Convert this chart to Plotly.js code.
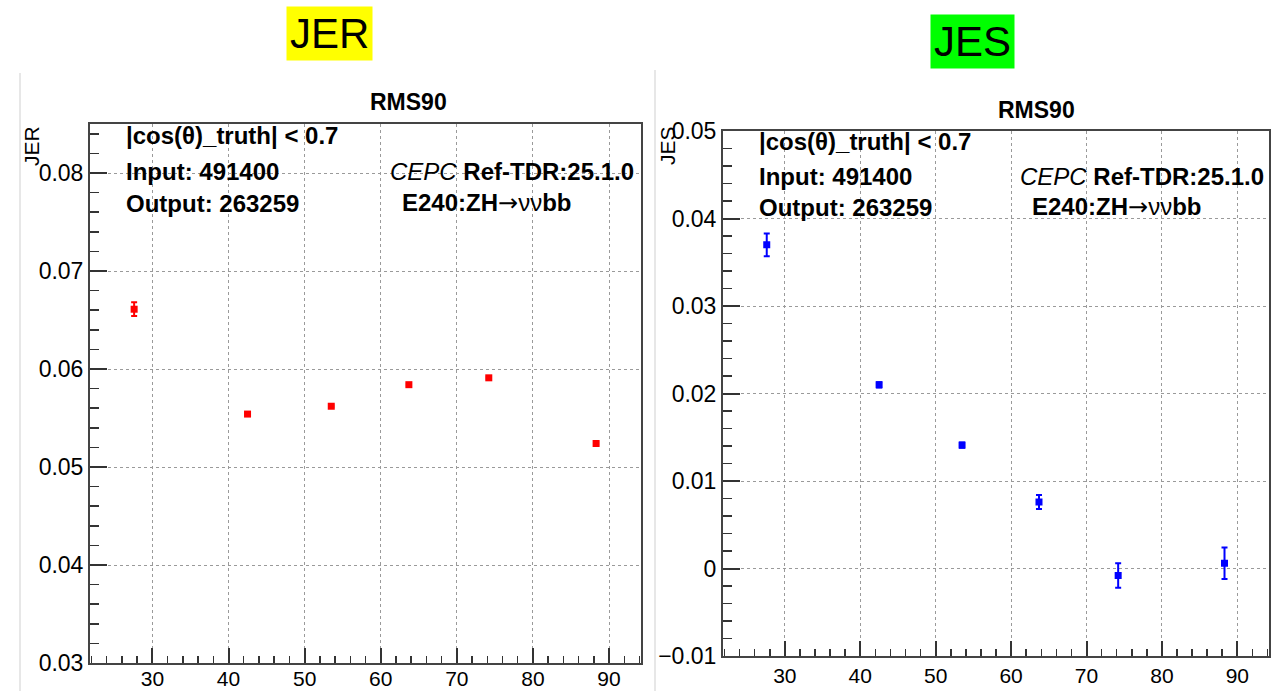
<!DOCTYPE html>
<html>
<head>
<meta charset="utf-8">
<script src="https://cdn.plot.ly/plotly-3.0.1.min.js"></script>
<style>
html,body{margin:0;padding:0;background:#fff;}
#chart{width:1276px;height:691px;}
</style>
</head>
<body>
<div id="chart"></div>
<script>
// Data
const ptCenters = [27.6, 42.5, 53.5, 63.7, 74.2, 88.3];
const jerValues = [0.0661, 0.0554, 0.0562, 0.0584, 0.0591, 0.0524];
const jerErrors = [0.0007, 0.0001, 0.0001, 0.0001, 0.0001, 0.0001];
const jesValues = [0.0370, 0.0210, 0.0141, 0.0076, -0.0008, 0.0006];
const jesErrors = [0.0013, 0.0003, 0.0003, 0.0008, 0.0014, 0.0018];
const panelTitles = ["JER", "JES"];
const plotTitle = "RMS90";
const infoLines = ["|cos(θ)_truth| < 0.7", "Input: 491400", "Output: 263259"];
const cepcLine = "<i>CEPC</i> <b>Ref-TDR:25.1.0</b>";
const procLine = "<b>E240:ZH</b><span style=\"font-family:'DejaVu Sans'\">→</span>νν<b>bb</b>";

const W = 1276, H = 691;
const px = x => x / W;
const py = y => 1 - y / H;
const FONT = "Liberation Sans, Arial, Helvetica, sans-serif";

const traces = [
  {
    x: ptCenters, y: jerValues, type: 'scatter', mode: 'markers',
    xaxis: 'x', yaxis: 'y',
    marker: {symbol: 'square', size: 7, color: '#ff0000'},
    error_y: {type: 'data', array: jerErrors, visible: true, color: '#ff0000', thickness: 2, width: 3},
    showlegend: false
  },
  {
    x: ptCenters, y: jesValues, type: 'scatter', mode: 'markers',
    xaxis: 'x2', yaxis: 'y2',
    marker: {symbol: 'square', size: 7, color: '#0000ff'},
    error_y: {type: 'data', array: jesErrors, visible: true, color: '#0000ff', thickness: 2, width: 3},
    showlegend: false
  }
];

function xAxis(domain, anchor, standoff) {
  return {
    domain: domain, anchor: anchor, range: [21.8, 94.2],
    dtick: 10, ticks: 'inside', ticklen: 15, tickwidth: 2, tickcolor: '#333',
    minor: {ticks: 'inside', ticklen: 7, tickwidth: 1.5, tickcolor: '#333', dtick: 2, showgrid: false},
    showline: true, linecolor: '#444', linewidth: 2, mirror: true,
    showgrid: true, gridcolor: '#9a9a9a', gridwidth: 1, griddash: 'dot',
    zeroline: false, ticklabelstandoff: standoff,
    tickfont: {family: FONT, size: 21, color: '#000'}
  };
}
function yAxis(domain, anchor, range) {
  return {
    domain: domain, anchor: anchor, range: range,
    dtick: 0.01, ticks: 'inside', ticklen: 17, tickwidth: 2, tickcolor: '#333',
    minor: {ticks: 'inside', ticklen: 9, tickwidth: 1.5, tickcolor: '#333', dtick: 0.002, showgrid: false},
    showline: true, linecolor: '#444', linewidth: 2, mirror: true,
    showgrid: true, gridcolor: '#9a9a9a', gridwidth: 1, griddash: 'dot',
    zeroline: false,
    tickfont: {family: FONT, size: 23, color: '#000'}
  };
}

const annotations = [];
function addText(text, x, y, opts) {
  annotations.push(Object.assign({
    text: text, x: px(x), y: py(y), xref: 'paper', yref: 'paper',
    showarrow: false, xanchor: 'left', yanchor: 'middle',
    font: {family: FONT, size: 24, color: '#000'}
  }, opts || {}));
}
// headers
addText(panelTitles[0], 329, 34, {xanchor: 'center', bgcolor: '#ffff00', borderpad: 3, font: {family: FONT, size: 42, color: '#000'}});
addText(panelTitles[1], 972, 42, {xanchor: 'center', bgcolor: '#00ff00', borderpad: 3, font: {family: FONT, size: 42, color: '#000'}});
// plot titles
addText('<b>' + plotTitle + '</b>', 408, 102, {xanchor: 'center', font: {family: FONT, size: 23, color: '#000'}});
addText('<b>' + plotTitle + '</b>', 1036, 110, {xanchor: 'center', font: {family: FONT, size: 23, color: '#000'}});
// y titles
addText(panelTitles[0], 31, 146, {xanchor: 'center', textangle: -90, font: {family: FONT, size: 21, color: '#000'}});
addText(panelTitles[1], 667, 146, {xanchor: 'center', textangle: -90, font: {family: FONT, size: 21, color: '#000'}});
// info text left
addText('<b>' + infoLines[0] + '</b>', 124, 135);
addText('<b>' + infoLines[1] + '</b>', 124, 171);
addText('<b>' + infoLines[2] + '</b>', 124, 203);
addText(cepcLine, 388, 171);
addText(procLine, 400, 203);
// info text right
addText('<b>' + infoLines[0] + '</b>', 757, 142);
addText('<b>' + infoLines[1] + '</b>', 757, 176);
addText('<b>' + infoLines[2] + '</b>', 757, 207);
addText(cepcLine, 1018, 176);
addText(procLine, 1030, 207);

const shapes = [
  {type: 'line', xref: 'paper', yref: 'paper', x0: px(20), x1: px(20), y0: py(73), y1: 0, line: {color: '#cfcfcf', width: 1}},
  {type: 'line', xref: 'paper', yref: 'paper', x0: px(655), x1: px(655), y0: py(70), y1: 0, line: {color: '#cfcfcf', width: 1}}
];

const layout = {
  width: W, height: H,
  margin: {l: 0, r: 0, t: 0, b: 0},
  paper_bgcolor: '#fff', plot_bgcolor: '#fff',
  showlegend: false,
  xaxis: xAxis([px(90), px(641)], 'y', -4),
  yaxis: yAxis([py(663), py(124)], 'x', [0.03, 0.085]),
  xaxis2: xAxis([px(723), px(1269)], 'y2', 0),
  yaxis2: yAxis([py(656), py(131)], 'x2', [-0.0100001, 0.0500001]),
  annotations: annotations,
  shapes: shapes
};

Plotly.newPlot('chart', traces, layout, {displayModeBar: false, staticPlot: true});
</script>
</body>
</html>
